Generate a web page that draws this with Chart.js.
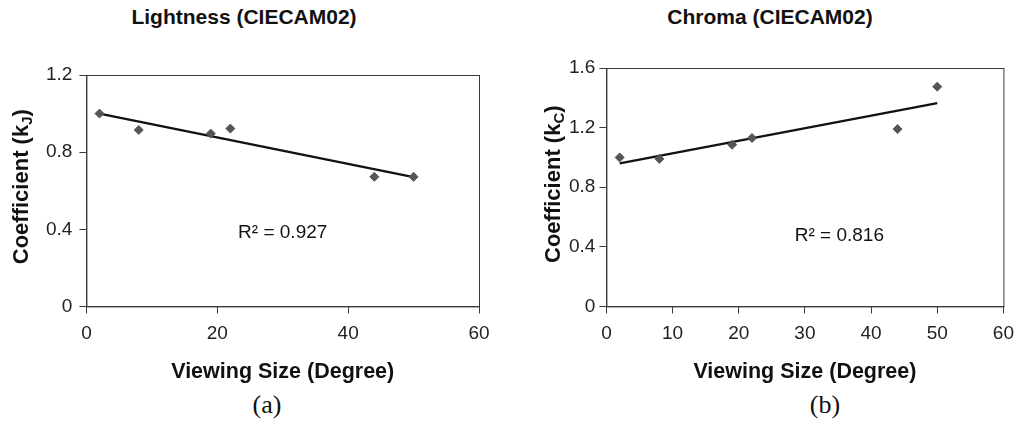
<!DOCTYPE html>
<html>
<head>
<meta charset="utf-8">
<script src="https://cdn.jsdelivr.net/npm/chart.js@4.4.1/dist/chart.umd.min.js"></script>
<style>
  body { margin: 0; background: #fff; width: 1016px; height: 427px; position: relative; overflow: hidden; font-family: "Liberation Sans", Arial, sans-serif; }
  .box { position: absolute; top: 0; height: 389px; }
  .title { position: absolute; font-weight: bold; font-size: 21px; line-height: 26px; white-space: nowrap; transform: translateX(-50%); color: #111; }
  .cap { position: absolute; font-family: "Liberation Serif", "Times New Roman", serif; font-size: 26px; line-height: 30px; transform: translateX(-50%); color: #111; }
</style>
</head>
<body>
<div class="title" style="left:244px; top:4px">Lightness (CIECAM02)</div>
<div class="title" style="left:770px; top:4px">Chroma (CIECAM02)</div>
<div class="box" style="left:0; width:500px"><canvas id="chart-lightness"></canvas></div>
<div class="box" style="left:510px; width:513px"><canvas id="chart-chroma"></canvas></div>
<div class="cap" style="left:267px; top:390px">(a)</div>
<div class="cap" style="left:825px; top:390px">(b)</div>

<script>
// values
const viewingSize = [2, 8, 19, 22, 44, 50];
const lightnessCoef = [1.00, 0.915, 0.896, 0.922, 0.672, 0.672];
const chromaCoef = [1.00, 0.99, 1.085, 1.13, 1.19, 1.475];

// trend line end points (as drawn in the figure)
const trendX = [2, 50];
const lightnessTrendY = [1.00, 0.67];
const chromaTrendY = [0.96, 1.365];

const lightnessR2 = 'R² = 0.927';
const chromaR2 = 'R² = 0.816';

const FONT = '"Liberation Sans", Arial, sans-serif';

function toPoints(xs, ys) {
  return xs.map((x, i) => ({ x: x, y: ys[i] }));
}

// рамка графика, подпись оси Y с индексом и R²
const framePlugin = {
  id: 'frame',
  beforeDatasetsDraw(chart, args, o) {
    const { ctx, chartArea } = chart;
    ctx.save();
    ctx.strokeStyle = '#3a3a3a';
    ctx.lineWidth = 1;
    ctx.strokeRect(chartArea.left + 0.5, chartArea.top + 0.5, chartArea.width, chartArea.height);
    ctx.restore();
  },
  afterDraw(chart, args, o) {
    const { ctx, chartArea, scales } = chart;
    ctx.save();
    ctx.fillStyle = '#111';
    ctx.font = '19px ' + FONT;
    ctx.textAlign = 'center';
    ctx.textBaseline = 'middle';
    ctx.fillText(o.r2, scales.x.getPixelForValue(o.r2x), scales.y.getPixelForValue(o.r2y));

    const big = 'bold 22px ' + FONT;
    const small = 'bold 15px ' + FONT;
    ctx.font = big;
    const w1 = ctx.measureText(o.yMain).width;
    const w3 = ctx.measureText(')').width;
    ctx.font = small;
    const w2 = ctx.measureText(o.ySub).width;
    const total = w1 + w2 + w3;
    ctx.translate(o.yTitleX, (chartArea.top + chartArea.bottom) / 2 + o.yShift);
    ctx.rotate(-Math.PI / 2);
    ctx.textAlign = 'left';
    ctx.textBaseline = 'alphabetic';
    let x = -total / 2;
    ctx.font = big;
    ctx.fillText(o.yMain, x, 8);
    x += w1;
    ctx.font = small;
    ctx.fillText(o.ySub, x, 11.5);
    x += w2;
    ctx.font = big;
    ctx.fillText(')', x, 8);
    ctx.restore();
  }
};

function makeChart(id, values, trendY, yMax, xStep, pad, tickPad, r2, r2x, r2y, ySub, yTitleX, yShift) {
  const axisColor = '#3a3a3a';
  return new Chart(document.getElementById(id), {
    type: 'scatter',
    data: {
      datasets: [{
        data: toPoints(viewingSize, values),
        pointStyle: 'rectRot',
        pointRadius: 4.5,
        backgroundColor: '#555',
        borderColor: '#555',
        borderWidth: 1,
        order: 1
      }, {
        data: toPoints(trendX, trendY),
        showLine: true,
        pointRadius: 0,
        borderColor: '#111',
        borderWidth: 2.3,
        order: 2
      }]
    },
    options: {
      responsive: true,
      maintainAspectRatio: false,
      animation: false,
      layout: { padding: pad },
      plugins: {
        legend: { display: false },
        tooltip: { enabled: false },
        frame: { r2: r2, r2x: r2x, r2y: r2y, yMain: 'Coefficient (k', ySub: ySub, yTitleX: yTitleX, yShift: yShift }
      },
      scales: {
        x: {
          type: 'linear',
          min: 0,
          max: 60,
          ticks: { stepSize: xStep, color: '#222', padding: 9, maxRotation: 0, font: { family: FONT, size: 19 } },
          grid: { drawOnChartArea: false, tickLength: 7, color: axisColor },
          border: { color: axisColor },
          title: {
            display: true,
            text: 'Viewing Size (Degree)',
            color: '#111',
            font: { family: FONT, size: 21.5, weight: 'bold' },
            padding: { top: 5, bottom: 4 }
          }
        },
        y: {
          min: 0,
          max: yMax,
          ticks: { stepSize: 0.4, color: '#222', padding: tickPad, font: { family: FONT, size: 19 } },
          grid: { drawOnChartArea: false, tickLength: 7, color: axisColor },
          border: { color: axisColor }
        }
      }
    },
    plugins: [framePlugin]
  });
}

makeChart('chart-lightness', lightnessCoef, lightnessTrendY, 1.2, 20,
  { left: 39, right: 21, top: 75, bottom: 0 }, 7, lightnessR2, 30, 0.384, 'J', 20, -4);
makeChart('chart-chroma', chromaCoef, chromaTrendY, 1.6, 10,
  { left: 55, right: 0, top: 68, bottom: 0 }, 4, chromaR2, 35.2, 0.472, 'C', 42, -3);
</script>
</body>
</html>
